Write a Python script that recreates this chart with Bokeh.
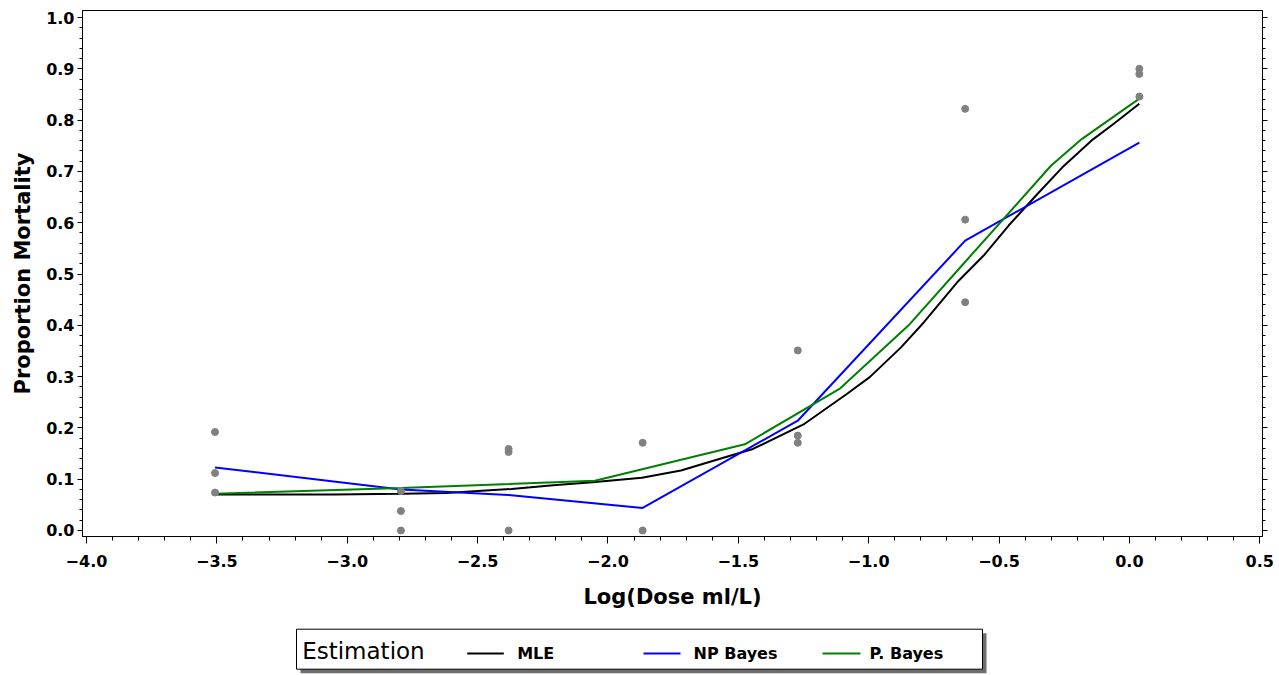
from bokeh.plotting import figure
from bokeh.models import Range1d, SingleIntervalTicker, LinearAxis, CustomJSTickFormatter
from bokeh.layouts import column
from bokeh.core.properties import value
from bokeh.embed import file_html
from bokeh.resources import INLINE

# ---- data ----
# observed proportions (grey dots)
dose_log = [-3.507, -3.507, -3.507, -2.794, -2.794, -2.794, -2.381, -2.381, -2.381,
            -1.867, -1.867, -1.272, -1.272, -1.272, -0.630, -0.630, -0.630,
            0.038, 0.038, 0.038]
prop_obs = [0.192, 0.112, 0.074, 0.077, 0.038, 0.000, 0.159, 0.153, 0.000,
            0.171, 0.000, 0.351, 0.185, 0.171, 0.822, 0.606, 0.445,
            0.900, 0.890, 0.846]

# MLE curve (black)
mle_x = [-3.507, -3.05, -2.794, -2.62, -2.50, -2.37, -2.21, -2.06, -1.87, -1.72, -1.57,
         -1.444, -1.246, -1.084, -0.996, -0.876, -0.788, -0.655, -0.559, -0.464,
         -0.353, -0.257, -0.146, -0.060, 0.038]
mle_y = [0.070, 0.070, 0.0715, 0.073, 0.077, 0.081, 0.088, 0.094, 0.103, 0.117, 0.140,
         0.159, 0.208, 0.266, 0.299, 0.357, 0.406, 0.487, 0.536, 0.594,
         0.656, 0.708, 0.760, 0.793, 0.832]

# NP Bayes curve (blue)
npb_x = [-3.507, -2.794, -2.381, -1.867, -1.272, -0.630, 0.038]
npb_y = [0.123, 0.080, 0.069, 0.044, 0.214, 0.565, 0.756]

# P. Bayes curve (green)
pb_x = [-3.507, -2.794, -2.05, -1.475, -1.112, -0.847, -0.633, -0.301, -0.183, 0.038]
pb_y = [0.0715, 0.083, 0.097, 0.168, 0.276, 0.400, 0.522, 0.711, 0.763, 0.842]

series_names = ["MLE", "NP Bayes", "P. Bayes"]
series_colors = ["#000000", "#0000ff", "#008000"]
legend_title = "Estimation"
x_title = "Log(Dose ml/L)"
y_title = "Proportion Mortality"

FONT = "DejaVu Sans"
W = 1279
BL, BR = 82, 17          # left / right borders shared by both panels

fmt_code = """
const v = Math.abs(tick) < 1e-9 ? 0 : tick;
const s = Math.abs(v).toFixed(1);
return v < 0 ? "\u2212" + s : s;
"""

p = figure(width=W, height=618,
           x_range=Range1d(-4.0153, 0.5104), y_range=Range1d(-0.0117, 1.0137),
           output_backend="svg", toolbar_location=None, tools="",
           min_border_left=BL, min_border_right=BR, min_border_top=10, min_border_bottom=82)
p.grid.visible = False
p.outline_line_color = "black"
p.outline_line_width = 1
p.background_fill_color = "white"
p.border_fill_color = "white"

xa = p.xaxis[0]
xa.ticker = SingleIntervalTicker(interval=0.5, num_minor_ticks=5)
xa.formatter = CustomJSTickFormatter(code=fmt_code)
xa.major_label_text_font = FONT
xa.major_label_text_font_style = "bold"
xa.major_label_text_font_size = "16px"
xa.major_label_text_color = "black"
xa.major_tick_out = 7
xa.major_tick_in = 0
xa.minor_tick_out = 4
xa.minor_tick_in = 0
xa.major_label_standoff = 11
xa.axis_line_color = "black"
xa.axis_label = x_title
xa.axis_label_text_font = FONT
xa.axis_label_text_font_style = "bold"
xa.axis_label_text_font_size = "21px"
xa.axis_label_text_color = "black"
xa.axis_label_standoff = 15

ya = p.yaxis[0]
ya.ticker = SingleIntervalTicker(interval=0.1, num_minor_ticks=5)
ya.formatter = CustomJSTickFormatter(code=fmt_code)
ya.major_label_text_font = FONT
ya.major_label_text_font_style = "bold"
ya.major_label_text_font_size = "16px"
ya.major_label_text_color = "black"
ya.major_tick_out = 5
ya.major_tick_in = 0
ya.minor_tick_out = 3
ya.minor_tick_in = 0
ya.major_label_standoff = 3
ya.axis_line_color = "black"
ya.axis_label = y_title
ya.axis_label_text_font = FONT
ya.axis_label_text_font_style = "bold"
ya.axis_label_text_font_size = "21px"
ya.axis_label_text_color = "black"
ya.axis_label_standoff = 8

ra = LinearAxis(ticker=SingleIntervalTicker(interval=0.1, num_minor_ticks=5),
                formatter=CustomJSTickFormatter(code="return '';"),
                major_tick_out=5, major_tick_in=0, minor_tick_out=3, minor_tick_in=0,
                major_label_standoff=0, axis_line_color="black")
p.add_layout(ra, "right")

p.line(mle_x, mle_y, line_color=series_colors[0], line_width=2)
p.line(npb_x, npb_y, line_color=series_colors[1], line_width=2)
p.line(pb_x, pb_y, line_color=series_colors[2], line_width=2)
p.scatter(dose_log, prop_obs, size=7, marker="circle", fill_color="#808080", line_color="#808080")

# ---- legend strip (pixel-space panel below the chart) ----
LH = 57
lg = figure(width=W, height=LH, x_range=Range1d(BL, W - BR), y_range=Range1d(0, LH),
            output_backend="svg", toolbar_location=None, tools="",
            min_border_left=BL, min_border_right=BR, min_border_top=0, min_border_bottom=0,
            x_axis_type=None, y_axis_type=None)
lg.outline_line_color = None
lg.background_fill_color = "white"
lg.border_fill_color = "white"

box_l, box_r, box_t, box_b = 296, 982, 46.3, 6.3
lg.quad(left=[box_l + 4], right=[box_r + 4], top=[box_t - 4], bottom=[box_b - 4],
        fill_color="#6e6e6e", line_color=None)
lg.quad(left=[box_l], right=[box_r], top=[box_t], bottom=[box_b], fill_color="white",
        line_color="black", line_width=1)
lg.text(x=[301.7], y=[24.2], text=[legend_title], text_font=value(FONT),
        text_font_size="23px", text_baseline="alphabetic", text_align="left", text_color="black")
lg.segment(x0=[466.7, 643, 822], y0=[22] * 3, x1=[503.3, 680, 860], y1=[22] * 3,
           line_color=series_colors, line_width=2)
lg.text(x=[516.7, 693, 869], y=[21.7] * 3, text=series_names, text_font=value(FONT),
        text_font_style="bold", text_font_size="16px", text_baseline="alphabetic",
        text_align="left", text_color="black")

layout = column(p, lg)
open("out.html", "w").write(file_html(layout, INLINE))
